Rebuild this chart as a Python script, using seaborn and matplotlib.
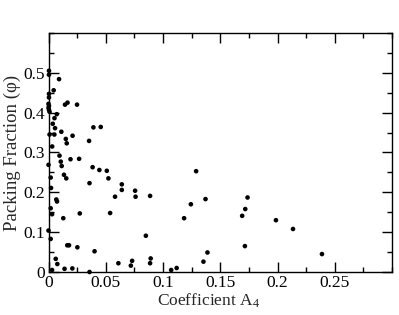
import numpy as np
import pandas as pd
import matplotlib
matplotlib.use("Agg")
import matplotlib.pyplot as plt
import seaborn as sns
from matplotlib.ticker import MultipleLocator

# Coefficient A4 (x) and packing fraction (y)
a4_coeff = [
    0.0004, 0.0004, 0.0092, 0.0045, 0.0004, 0.0004,
    0.0000, 0.0004, 0.0000, 0.0004, 0.0009,
    0.0144, 0.0166, 0.0249, 0.0072, 0.0052, 0.0037, 0.0057, 0.0112,
    0.0009, 0.0051, 0.0151, 0.0159, 0.0210, 0.0354, 0.0392, 0.0456,
    0.0032, 0.0000, 0.0096, 0.0107, 0.0115, 0.0192, 0.0267,
    0.0019, 0.0022, 0.0135, 0.0155, 0.0358, 0.0385, 0.0444, 0.0509,
    0.0523, 0.0640, 0.0640, 0.0581, 0.0756, 0.0760, 0.0887,
    0.0019, 0.0031, 0.0068, 0.0074, 0.0129, 0.0273, 0.0538,
    0.0000, 0.0019, 0.0164, 0.0179, 0.0252, 0.0402, 0.0850,
    0.0063, 0.0077, 0.0031, 0.0140, 0.0208, 0.0358,
    0.0610, 0.0719, 0.0730, 0.0887, 0.0892, 0.1071, 0.1119,
    0.1289, 0.1243, 0.1371, 0.1184, 0.1738, 0.1718, 0.1691, 0.1715,
    0.1388, 0.1353, 0.1986, 0.2135, 0.2388,
]
packing_fraction = [
    0.505, 0.495, 0.484, 0.456, 0.447, 0.438,
    0.422, 0.417, 0.412, 0.407, 0.402,
    0.420, 0.425, 0.420, 0.396, 0.386, 0.372, 0.361, 0.352,
    0.345, 0.345, 0.334, 0.323, 0.342, 0.329, 0.363, 0.364,
    0.315, 0.269, 0.292, 0.277, 0.266, 0.283, 0.284,
    0.237, 0.211, 0.244, 0.235, 0.223, 0.263, 0.256, 0.254,
    0.235, 0.220, 0.206, 0.189, 0.204, 0.189, 0.191,
    0.160, 0.145, 0.182, 0.177, 0.135, 0.147, 0.148,
    0.104, 0.083, 0.067, 0.067, 0.062, 0.052, 0.091,
    0.033, 0.020, 0.005, 0.008, 0.009, 0.000,
    0.022, 0.016, 0.028, 0.022, 0.034, 0.005, 0.010,
    0.253, 0.170, 0.183, 0.135, 0.187, 0.158, 0.141, 0.065,
    0.049, 0.026, 0.130, 0.108, 0.045,
]

x_ticks = [0, 0.05, 0.1, 0.15, 0.2, 0.25]
x_tick_labels = ["0", "0.05", "0.1", "0.15", "0.2", "0.25"]
y_ticks = [0, 0.1, 0.2, 0.3, 0.4, 0.5]
y_tick_labels = ["0", "0.1", "0.2", "0.3", "0.4", "0.5"]

df = pd.DataFrame({"a4": a4_coeff, "phi": packing_fraction})

# Set style (font family must come after set_theme)
sns.set_theme(style="ticks")
plt.rcParams["font.family"] = ["Liberation Serif", "DejaVu Serif"]
plt.rcParams["mathtext.fontset"] = "custom"
plt.rcParams["mathtext.rm"] = "Liberation Serif"
plt.rcParams["mathtext.it"] = "Liberation Serif:italic"

fig = plt.figure(figsize=(3.99, 3.15), dpi=100)
ax = fig.add_axes([0.1216, 0.1365, 0.861, 0.759])

sns.scatterplot(data=df, x="a4", y="phi", ax=ax, color="black",
                s=11, edgecolor="none", linewidth=0, legend=False,
                clip_on=False, zorder=3)

ax.set_xlim(0, 0.3)
ax.set_ylim(0, 0.6)
ax.set_xticks(x_ticks)
ax.set_xticklabels(x_tick_labels)
ax.set_yticks(y_ticks)
ax.set_yticklabels(y_tick_labels)
ax.xaxis.set_minor_locator(MultipleLocator(0.025))
ax.yaxis.set_minor_locator(MultipleLocator(0.05))

# Ticks pointing inward on all four sides
ax.tick_params(which="both", direction="in", top=True, right=True,
               colors="black", width=1, labelsize=12.5, pad=2.5)
ax.tick_params(which="major", length=7)
ax.tick_params(which="minor", length=3.5)
for spine in ax.spines.values():
    spine.set_color("black")
    spine.set_linewidth(1)

ax.set_xlabel("Coefficient A$_{\\mathrm{4}}$", fontsize=12.5)
ax.set_ylabel("Packing Fraction (φ)", fontsize=13.5, labelpad=2)
ax.xaxis.set_label_coords(0.465, -0.083, transform=ax.transAxes)
ax.xaxis.label.set_va("top")

fig.savefig("out.png", dpi=100)
plt.close(fig)
